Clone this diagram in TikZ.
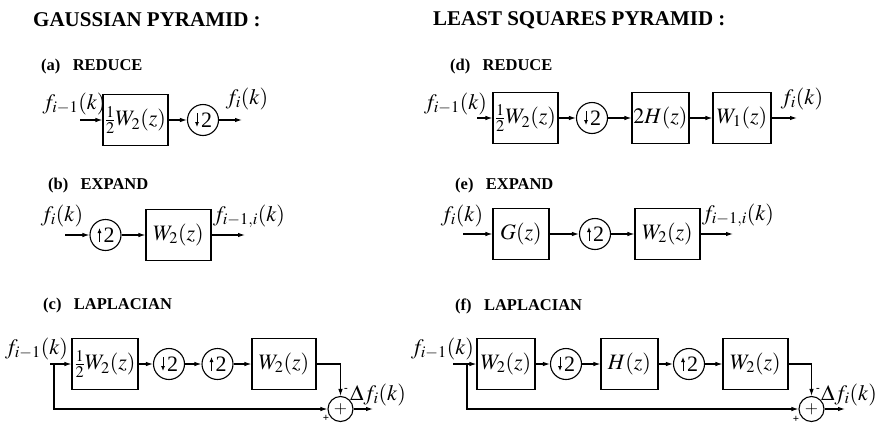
\documentclass[tikz,border=0pt]{standalone}
\usepackage{amsmath}
\usepackage{mathptmx}
\usepackage{fontspec}
\setmainfont{Liberation Serif}
\usetikzlibrary{arrows.meta}
\newcommand{\mfs}{\fontsize{22}{25}\selectfont}
\tikzset{
 sig/.style={line width=1.1pt,-{Latex[length=7pt,width=4.5pt]}},
 wire/.style={line width=1.1pt},
 blk/.style={draw,line width=1.1pt,minimum height=51pt,inner sep=0pt,font=\mfs},
 ring/.style={draw,circle,line width=1.1pt,minimum size=31pt,inner sep=0pt,font=\mfs},
 sumr/.style={draw,circle,line width=1.1pt,minimum size=25pt,inner sep=0pt,font=\fontsize{17}{20}\selectfont},
 lbl/.style={inner sep=0pt,font=\mfs},
 sgn/.style={inner sep=0pt,font=\fontsize{11}{13}\selectfont\bfseries},
 ttl/.style={anchor=west,inner sep=0pt,font=\fontsize{21}{24}\selectfont\bfseries},
 subh/.style={anchor=west,inner sep=0pt,font=\fontsize{16.5}{19}\selectfont\bfseries},
 tinyarr/.style={line width=0.9pt,-{Latex[length=5pt,width=4pt]}},
}
\newcommand{\dnarr}[1]{\draw[tinyarr] ([xshift=-6pt,yshift=7pt]#1.center) -- ([xshift=-6pt,yshift=-7pt]#1.center);}
\newcommand{\uparr}[1]{\draw[tinyarr] ([xshift=-6pt,yshift=-7pt]#1.center) -- ([xshift=-6pt,yshift=7pt]#1.center);}
\newcommand{\two}{\hspace*{7pt}2}
\newcommand{\gap}{\hspace{0.75em}}
\begin{document}
\begin{tikzpicture}[x=1pt,y=-1pt]
\useasboundingbox (0,0) rectangle (876,426);
% titles
\node[ttl] (t1) at (33,20) {GAUSSIAN PYRAMID :};
\node[ttl] (t2) at (433,20) {LEAST SQUARES PYRAMID :};
% (a)
\node[subh] (ha) at (41,67) {(a)\gap REDUCE};
\node[lbl] (ain) at (74,104) {$f_{i-1}(k)$};
\coordinate (as) at (80,120);
\node[blk,minimum width=65pt] (a1) at (135.5,120) {$\tfrac12 W_2(z)$};
\node[ring] (a2) at (203,120) {\two};
\dnarr{a2}
\coordinate (ae) at (242,120);
\node[lbl] (aout) at (247,99) {$f_i(k)$};
\draw[sig] (as) -- (a1);
\draw[sig] (a1) -- (a2);
\draw[sig] (a2) -- (ae);
% (b)
\node[subh] (hb) at (48,186) {(b)\gap EXPAND};
\node[lbl] (bin) at (62,216) {$f_i(k)$};
\coordinate (bs) at (65,235);
\node[ring] (b1) at (105.5,235) {\two};
\uparr{b1}
\node[blk,minimum width=65pt] (b2) at (178.5,235) {$W_2(z)$};
\coordinate (be) at (245,235);
\node[lbl] (bout) at (249,216) {$f_{i-1,i}(k)$};
\draw[sig] (bs) -- (b1);
\draw[sig] (b1) -- (b2);
\draw[sig] (b2) -- (be);
% (c)
\node[subh] (hc) at (43,306) {(c)\gap LAPLACIAN};
\node[lbl] (cin) at (36.5,349) {$f_{i-1}(k)$};
\coordinate (cs) at (50,364);
\coordinate (cb) at (54,364);
\node[blk,minimum width=66pt] (c1) at (105,364) {$\tfrac12 W_2(z)$};
\node[ring] (c2) at (169,364) {\two};
\dnarr{c2}
\node[ring] (c3) at (217.5,364) {\two};
\uparr{c3}
\node[blk,minimum width=64pt] (c4) at (284,364) {$W_2(z)$};
\node[sumr] (c5) at (340.5,409) {$+$};
\coordinate (ce) at (373,409);
\node[lbl] (cout) at (378,395) {$\Delta f_i(k)$};
\node[sgn] (cm) at (346,390) {-};
\node[sgn] (cp) at (326,418) {+};
\draw[wire] (cs) -- (cb);
\draw[sig] (cb) -- (c1);
\draw[sig] (c1) -- (c2);
\draw[sig] (c2) -- (c3);
\draw[sig] (c3) -- (c4);
\draw[sig] (c4.east) -| (c5.north);
\draw[sig] (cb) |- (c5.west);
\draw[sig] (c5) -- (ce);
% (d)
\node[subh] (hd) at (450,67) {(d)\gap REDUCE};
\node[lbl] (din) at (455.5,104) {$f_{i-1}(k)$};
\coordinate (ds) at (477,118);
\node[blk,minimum width=65pt] (d1) at (525.5,118) {$\tfrac12 W_2(z)$};
\node[ring] (d2) at (592,118) {\two};
\dnarr{d2}
\node[blk,minimum width=57pt] (d3) at (660.5,118) {$2H(z)$};
\node[blk,minimum width=58pt] (d4) at (742,118) {$W_1(z)$};
\coordinate (de) at (797,118);
\node[lbl] (dout) at (802,99) {$f_i(k)$};
\draw[sig] (ds) -- (d1);
\draw[sig] (d1) -- (d2);
\draw[sig] (d2) -- (d3);
\draw[sig] (d3) -- (d4);
\draw[sig] (d4) -- (de);
% (e)
\node[subh] (he) at (455,186) {(e)\gap EXPAND};
\node[lbl] (ein) at (462,216) {$f_i(k)$};
\coordinate (es) at (463,234);
\node[blk,minimum width=56pt] (e1) at (521,234) {$G(z)$};
\node[ring] (e2) at (595,234) {\two};
\uparr{e2}
\node[blk,minimum width=65pt] (e3) at (667.5,234) {$W_2(z)$};
\coordinate (ee) at (733,234);
\node[lbl] (eout) at (738,215) {$f_{i-1,i}(k)$};
\draw[sig] (es) -- (e1);
\draw[sig] (e1) -- (e2);
\draw[sig] (e2) -- (e3);
\draw[sig] (e3) -- (ee);
% (f)
\node[subh] (hf) at (455,306) {(f)\gap LAPLACIAN};
\node[lbl] (fin) at (442.5,349) {$f_{i-1}(k)$};
\coordinate (fs) at (453,364);
\coordinate (fb) at (467,364);
\node[blk,minimum width=58pt] (f1) at (506,364) {$W_2(z)$};
\node[ring] (f2) at (566,364) {\two};
\dnarr{f2}
\node[blk,minimum width=57pt] (f3) at (629.5,364) {$H(z)$};
\node[ring] (f4) at (689,364) {\two};
\uparr{f4}
\node[blk,minimum width=65pt] (f5) at (755.5,364) {$W_2(z)$};
\node[sumr] (f6) at (811.5,409) {$+$};
\coordinate (fe) at (845,409);
\node[lbl] (fout) at (849,395) {$\Delta f_i(k)$};
\node[sgn] (fm) at (818,390) {-};
\node[sgn] (fp) at (796,419) {+};
\draw[wire] (fs) -- (fb);
\draw[sig] (fb) -- (f1);
\draw[sig] (f1) -- (f2);
\draw[sig] (f2) -- (f3);
\draw[sig] (f3) -- (f4);
\draw[sig] (f4) -- (f5);
\draw[sig] (f5.east) -| (f6.north);
\draw[sig] (fb) |- (f6.west);
\draw[sig] (f6) -- (fe);
\end{tikzpicture}
\end{document}
